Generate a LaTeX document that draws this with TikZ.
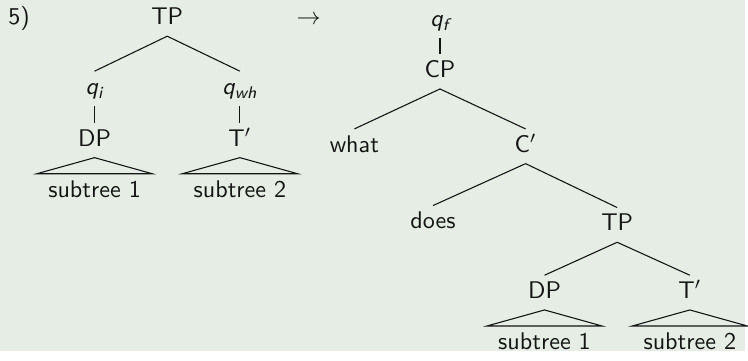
\documentclass[tikz,border=0pt]{standalone}
\usepackage{fontspec}
\definecolor{bg}{RGB}{229,237,229}
\definecolor{ink}{RGB}{20,20,20}
\begin{document}
\begin{tikzpicture}[x=0.413pt,y=-0.413pt,
  every node/.style={font=\sffamily\fontsize{10}{12}\selectfont, text=ink},
  lab/.style={anchor=base, inner xsep=4.5pt, inner ysep=2.5pt, text height=7pt, text depth=2pt},
  br/.style={draw=ink, line width=0.45pt},
]
\fill[bg] (0,0) rectangle (748,353);
\node[anchor=base west, inner sep=0pt] (num) at (8,25) {5)};
\node[anchor=base, inner sep=0pt] (arr) at (310,25) {$\rightarrow$};
% left tree
\node[lab] (tp1) at (168,25) {TP};
\node[lab] (qi) at (95,95) {\itshape q\textsubscript{i}};
\node[lab] (qwh) at (241,95) {\itshape q\textsubscript{wh}};
\node[lab] (dp1) at (95,147) {DP};
\node[lab] (tb1) at (241,147) {T$'$};
\node[lab] (s1) at (95,198) {subtree 1};
\node[lab] (s2) at (241,198) {subtree 2};
\draw[br] (tp1.south) -- (qi.north);
\draw[br] (tp1.south) -- (qwh.north);
\draw[br] (qi.south) -- (dp1.north);
\draw[br] (qwh.south) -- (tb1.north);
\draw[br] (dp1.south) -- (s1.north west) -- (s1.north east) -- cycle;
\draw[br] (tb1.south) -- (s2.north west) -- (s2.north east) -- cycle;
% right tree
\node[lab] (qf) at (442,27) {\itshape q\textsubscript{f}};
\node[lab] (cp) at (442,78) {CP};
\node[lab] (what) at (356,153) {what};
\node[lab] (cb) at (528,153) {C$'$};
\node[lab] (does) at (435,230) {does};
\node[lab] (tp2) at (620,232) {TP};
\node[lab] (dp2) at (547,300) {DP};
\node[lab] (tb2) at (693,300) {T$'$};
\node[lab] (s3) at (547,351) {subtree 1};
\node[lab] (s4) at (693,351) {subtree 2};
\draw[br] (qf.south) -- (cp.north);
\draw[br] (cp.south) -- (what.north);
\draw[br] (cp.south) -- (cb.north);
\draw[br] (cb.south) -- (does.north);
\draw[br] (cb.south) -- (tp2.north);
\draw[br] (tp2.south) -- (dp2.north);
\draw[br] (tp2.south) -- (tb2.north);
\draw[br] (dp2.south) -- (s3.north west) -- (s3.north east) -- cycle;
\draw[br] (tb2.south) -- (s4.north west) -- (s4.north east) -- cycle;
\useasboundingbox (0,0) rectangle (748,353);
\end{tikzpicture}
\end{document}
